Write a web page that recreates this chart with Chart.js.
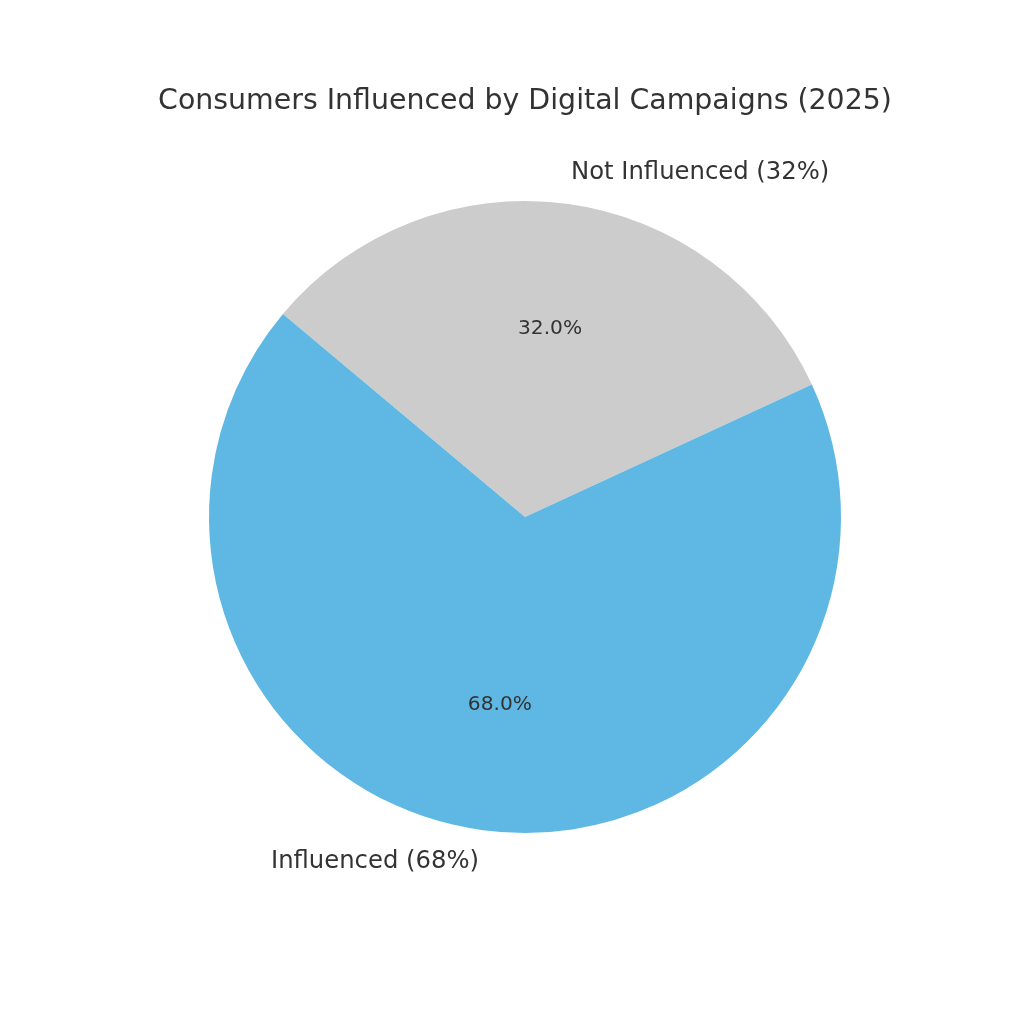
<!DOCTYPE html>
<html>
<head>
<meta charset="utf-8">
<script src="https://cdn.jsdelivr.net/npm/chart.js@4"></script>
<style>
  html, body { margin: 0; padding: 0; background: #ffffff; }
  #wrap { width: 1024px; height: 1024px; }
</style>
</head>
<body>
<div id="wrap"><canvas id="pie" width="1024" height="1024"></canvas></div>
<script>
// Drawn in clockwise order (Chart.js) so the slices land where the reference has them
const labels = ['Not Influenced (32%)', 'Influenced (68%)'];
const values = [32, 68];
const colors = ['#cccccc', '#5fb8e4'];
const title = 'Consumers Influenced by Digital Campaigns (2025)';

const TEXT = '#333333';
const FONT = "'DejaVu Sans', sans-serif";

// Plugin: title, outer labels at 1.1r and percentages at 0.6r, like matplotlib autopct
const pieLabels = {
  id: 'pieLabels',
  afterDatasetsDraw(chart) {
    const ctx = chart.ctx;
    const meta = chart.getDatasetMeta(0);
    const total = values.reduce((a, b) => a + b, 0);

    ctx.save();
    ctx.fillStyle = TEXT;
    ctx.textBaseline = 'middle';

    ctx.font = '28.4px ' + FONT;
    ctx.textAlign = 'center';
    ctx.fillText(title, (chart.chartArea.left + chart.chartArea.right) / 2, 102);

    meta.data.forEach((arc, i) => {
      const mid = (arc.startAngle + arc.endAngle) / 2;
      const r = arc.outerRadius;
      const cos = Math.cos(mid), sin = Math.sin(mid);

      // outside label
      ctx.font = '24.3px ' + FONT;
      ctx.textAlign = cos >= 0 ? 'left' : 'right';
      ctx.fillText(labels[i], arc.x + cos * r * 1.1, arc.y + sin * r * 1.1);

      // percentage
      ctx.font = '20.2px ' + FONT;
      ctx.textAlign = 'center';
      const pct = (values[i] / total * 100).toFixed(1) + '%';
      ctx.fillText(pct, arc.x + cos * r * 0.6, arc.y + sin * r * 0.6);
    });
    ctx.restore();
  }
};

new Chart(document.getElementById('pie'), {
  type: 'pie',
  data: {
    labels: labels,
    datasets: [{
      data: values,
      backgroundColor: colors,
      borderWidth: 0,
    }]
  },
  options: {
    responsive: false,
    animation: false,
    rotation: -50,
    layout: { padding: { left: 209, right: 183, top: 201, bottom: 191 } },
    plugins: {
      legend: { display: false },
      tooltip: { enabled: false },
      title: { display: false }
    }
  },
  plugins: [pieLabels]
});
</script>
</body>
</html>
